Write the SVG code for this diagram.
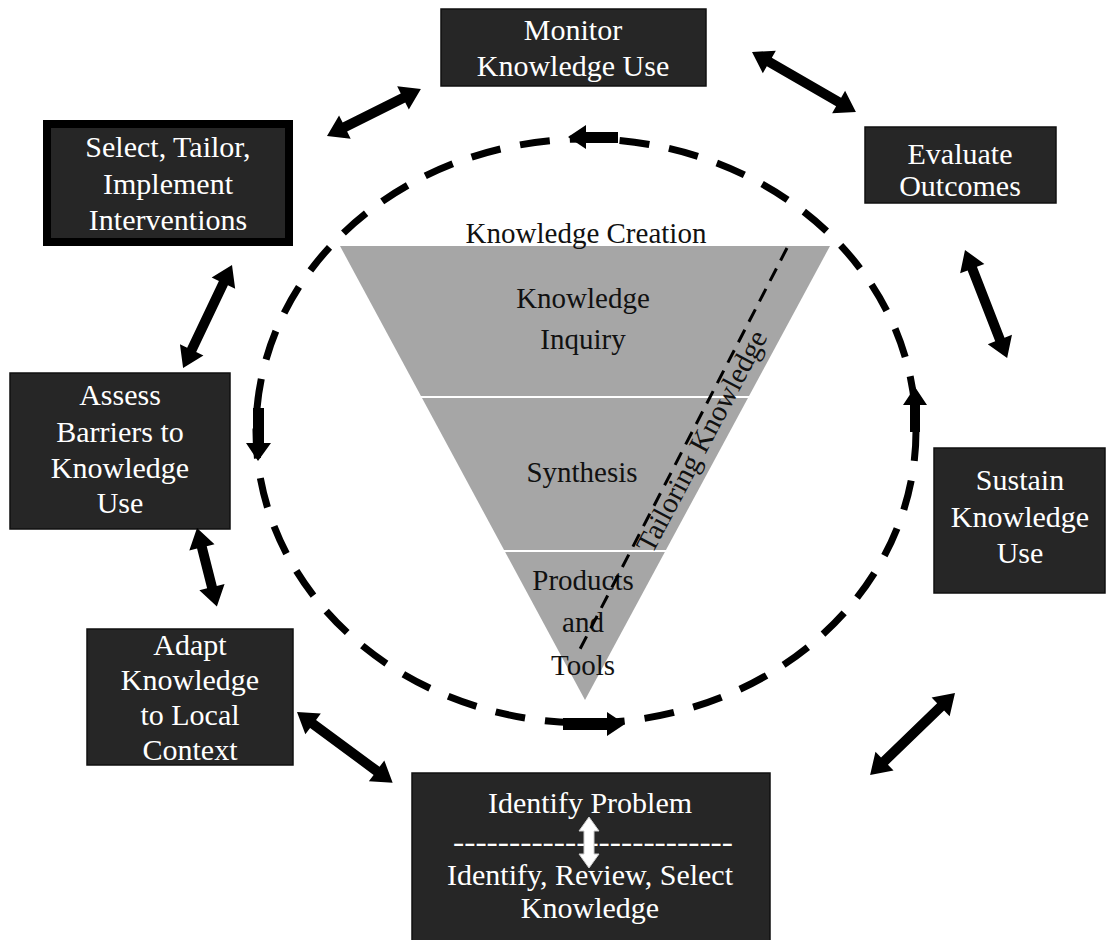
<svg xmlns="http://www.w3.org/2000/svg" width="1106" height="940" viewBox="0 0 1106 940">
<style>
.box{fill:#262626;stroke:#111;stroke-width:1.5}
.bt{font-family:"Liberation Serif","Times New Roman",serif;font-size:30px;fill:#fff;text-anchor:middle}
.tt{font-family:"Liberation Serif","Times New Roman",serif;font-size:29px;fill:#111;text-anchor:middle}
.da{fill:#000}
</style>
<rect width="1106" height="940" fill="#fff"/>

<g id="knowledge-creation">
  <polygon points="340,246 830,246 585,700" fill="#a6a6a6"/>
  <line x1="421" y1="397" x2="749" y2="397" stroke="#fff" stroke-width="2"/>
  <line x1="504" y1="551" x2="666" y2="551" stroke="#fff" stroke-width="2"/>
  <text class="tt" x="586" y="243">Knowledge Creation</text>
  <text class="tt" x="583" y="308">Knowledge</text>
  <text class="tt" x="583" y="349">Inquiry</text>
  <text class="tt" x="582" y="482">Synthesis</text>
  <text class="tt" x="583" y="590">Products</text>
  <text class="tt" x="583" y="632">and</text>
  <text class="tt" x="583" y="675">Tools</text>
  <line x1="787" y1="248" x2="578" y2="653" stroke="#000" stroke-width="3" stroke-dasharray="14 9"/>
  <text class="tt" transform="translate(703,442) rotate(-62)" x="0" y="8">Tailoring Knowledge</text>
</g>

<g id="cycle">
  <ellipse cx="586" cy="431" rx="330" ry="292" fill="none" stroke="#000" stroke-width="7" stroke-dasharray="30 20"/>
  <polygon class="da" points="568,137 586,125 586,132 618,132 618,143 586,143 586,149"/>
  <polygon class="da" points="258,461 246,443 253,443 253,408 264,408 264,443 271,443"/>
  <polygon class="da" points="625,724 607,712 607,718 563,718 563,730 607,730 607,736"/>
  <polygon class="da" points="915,387 927,405 920,405 920,432 910,432 910,405 903,405"/>
</g>

<g id="monitor">
  <rect class="box" x="441" y="9" width="265" height="77"/>
  <text class="bt" x="573" y="40">Monitor</text>
  <text class="bt" x="573" y="76">Knowledge Use</text>
</g>
<g id="evaluate">
  <rect class="box" x="865" y="127" width="191" height="76"/>
  <text class="bt" x="960" y="164">Evaluate</text>
  <text class="bt" x="960" y="196">Outcomes</text>
</g>
<g id="select">
  <rect x="43" y="120" width="250" height="126" fill="#000"/>
  <rect x="51" y="128" width="234" height="110" fill="#262626"/>
  <text class="bt" x="168" y="157">Select, Tailor,</text>
  <text class="bt" x="168" y="194">Implement</text>
  <text class="bt" x="168" y="230">Interventions</text>
</g>
<g id="assess">
  <rect class="box" x="10" y="373" width="220" height="156"/>
  <text class="bt" x="120" y="405">Assess</text>
  <text class="bt" x="120" y="442">Barriers to</text>
  <text class="bt" x="120" y="478">Knowledge</text>
  <text class="bt" x="120" y="513">Use</text>
</g>
<g id="adapt">
  <rect class="box" x="87" y="629" width="206" height="136"/>
  <text class="bt" x="190" y="655">Adapt</text>
  <text class="bt" x="190" y="690">Knowledge</text>
  <text class="bt" x="190" y="725">to Local</text>
  <text class="bt" x="190" y="760">Context</text>
</g>
<g id="sustain">
  <rect class="box" x="934" y="448" width="171" height="145"/>
  <text class="bt" x="1020" y="490">Sustain</text>
  <text class="bt" x="1020" y="527">Knowledge</text>
  <text class="bt" x="1020" y="563">Use</text>
</g>
<g id="identify">
  <rect class="box" x="412" y="773" width="358" height="170"/>
  <text class="bt" x="590" y="813">Identify Problem</text>
  <text class="bt" x="593" y="852" textLength="280" lengthAdjust="spacingAndGlyphs">-------------------------</text>
  <path transform="translate(589,817) rotate(90)" d="M0,0 L14,-10 L14,-5 L37,-5 L37,-10 L51,0 L37,10 L37,5 L14,5 L14,10 Z" fill="#fff" stroke="#ccc" stroke-width="1"/>
  <text class="bt" x="590" y="885">Identify, Review, Select</text>
  <text class="bt" x="590" y="918">Knowledge</text>
</g>

<g id="connectors" fill="#000">
  <path transform="translate(327,136) rotate(-26.6)" d="M0,0 L20,-13 L20,-5 L85,-5 L85,-13 L105,0 L85,13 L85,5 L20,5 L20,13 Z"/>
  <path transform="translate(752,52) rotate(30)" d="M0,0 L20,-13 L20,-5 L100,-5 L100,-13 L120,0 L100,13 L100,5 L20,5 L20,13 Z"/>
  <path transform="translate(965,250) rotate(68.7)" d="M0,0 L20,-13 L20,-5 L96,-5 L96,-13 L116,0 L96,13 L96,5 L20,5 L20,13 Z"/>
  <path transform="translate(955,693) rotate(136)" d="M0,0 L20,-13 L20,-5 L98,-5 L98,-13 L118,0 L98,13 L98,5 L20,5 L20,13 Z"/>
  <path transform="translate(297,712) rotate(36.5)" d="M0,0 L20,-13 L20,-5 L99,-5 L99,-13 L119,0 L99,13 L99,5 L20,5 L20,13 Z"/>
  <path transform="translate(197,528) rotate(75.8)" d="M0,0 L20,-13 L20,-5 L61,-5 L61,-13 L81,0 L61,13 L61,5 L20,5 L20,13 Z"/>
  <path transform="translate(232,265) rotate(115.4)" d="M0,0 L20,-13 L20,-5 L94,-5 L94,-13 L114,0 L94,13 L94,5 L20,5 L20,13 Z"/>
</g>
</svg>
